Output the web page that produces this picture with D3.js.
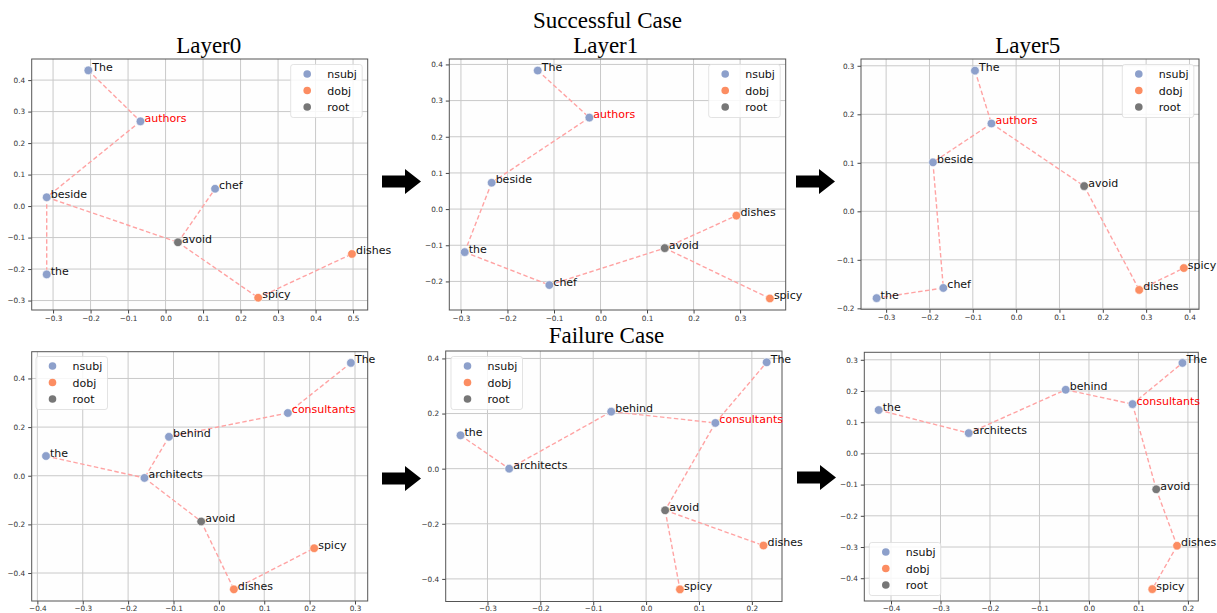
<!DOCTYPE html>
<html>
<head>
<meta charset="utf-8">
<script src="https://cdn.jsdelivr.net/npm/d3@7"></script>
<style>
  body { margin: 0; background: #fff; }
  svg { display: block; }
</style>
</head>
<body>
<div id="chart"></div>
<script>
// words + dependency labels for the two sentences
var successWords = ["The", "authors", "beside", "the", "chef", "avoid", "dishes", "spicy"];
var failureWords = ["The", "consultants", "behind", "the", "architects", "avoid", "dishes", "spicy"];
var wordDeps = ["nsubj", "nsubj", "nsubj", "nsubj", "nsubj", "root", "dobj", "dobj"];
var legendLabels = ["nsubj", "dobj", "root"];
var highlightWord = 1;

// successful case
var layer0X = [-0.206, -0.067, -0.317, -0.317, 0.132, 0.033, 0.497, 0.247];
var layer0Y = [0.431, 0.269, 0.028, -0.217, 0.055, -0.115, -0.152, -0.291];
var layer0Edges = [[0, 1], [1, 2], [2, 3], [2, 5], [5, 4], [5, 7], [7, 6]];

var layer1X = [-0.135, -0.024, -0.234, -0.292, -0.110, 0.138, 0.292, 0.364];
var layer1Y = [0.383, 0.253, 0.073, -0.119, -0.210, -0.108, -0.018, -0.247];
var layer1Edges = [[0, 1], [1, 2], [2, 3], [3, 4], [4, 5], [5, 6], [5, 7]];

var layer5X = [-0.095, -0.057, -0.192, -0.322, -0.168, 0.157, 0.284, 0.387];
var layer5Y = [0.290, 0.181, 0.101, -0.179, -0.158, 0.052, -0.162, -0.117];
var layer5Edges = [[0, 1], [1, 2], [2, 4], [4, 3], [1, 5], [5, 6], [6, 7]];

// failure case
var failLayer0X = [0.291, 0.152, -0.110, -0.381, -0.164, -0.039, 0.033, 0.210];
var failLayer0Y = [0.464, 0.258, 0.160, 0.081, -0.009, -0.188, -0.467, -0.298];
var failLayer0Edges = [[0, 1], [1, 2], [2, 4], [3, 4], [4, 5], [5, 6], [6, 7]];

var failLayer1X = [0.228, 0.131, -0.066, -0.351, -0.259, 0.036, 0.222, 0.064];
var failLayer1Y = [0.386, 0.166, 0.207, 0.121, 0.000, -0.151, -0.279, -0.438];
var failLayer1Edges = [[3, 4], [4, 2], [2, 1], [1, 0], [1, 5], [5, 6], [5, 7]];

var failLayer5X = [0.189, 0.088, -0.047, -0.425, -0.243, 0.136, 0.178, 0.128];
var failLayer5Y = [0.290, 0.158, 0.204, 0.139, 0.065, -0.115, -0.296, -0.435];
var failLayer5Edges = [[3, 4], [4, 2], [2, 1], [1, 0], [1, 5], [5, 6], [6, 7]];

// tick labels per panel
var ticksA = [-0.3, -0.2, -0.1, 0.0, 0.1, 0.2, 0.3, 0.4, 0.5];
var ticksB = [-0.3, -0.2, -0.1, 0.0, 0.1, 0.2, 0.3, 0.4];
var ticksC = [-0.3, -0.2, -0.1, 0.0, 0.1, 0.2, 0.3];
var ticksD = [-0.2, -0.1, 0.0, 0.1, 0.2, 0.3, 0.4];
var ticksE = [-0.2, -0.1, 0.0, 0.1, 0.2, 0.3];
var ticksF = [-0.4, -0.3, -0.2, -0.1, 0.0, 0.1, 0.2, 0.3];
var ticksG = [-0.4, -0.2, 0.0, 0.2, 0.4];
var ticksH = [-0.3, -0.2, -0.1, 0.0, 0.1, 0.2];
var ticksI = [-0.4, -0.3, -0.2, -0.1, 0.0, 0.1, 0.2];

var W = 1217, H = 613;
var color = d3.scaleOrdinal().domain(legendLabels).range(["#8da0cb", "#fc8d62", "#777777"]);
var fmt = function(v){ return d3.format(".1f")(v).replace("-", "\u2212"); };

var svg = d3.select("#chart").append("svg")
    .attr("width", W)
    .attr("height", H);

// frame boxes + axis ranges for each panel
var panels = [
  {words: successWords, xs: layer0X, ys: layer0Y, edges: layer0Edges,
   box: [31.7, 59, 367.7, 310], xd: [-0.357, 0.539], yd: [-0.330, 0.467],
   xt: ticksA, yt: ticksB, legend: [290.7, 64.5], pad: 2.5},
  {words: successWords, xs: layer1X, ys: layer1Y, edges: layer1Edges,
   box: [449.3, 59, 785.7, 310], xd: [-0.325, 0.398], yd: [-0.279, 0.415],
   xt: ticksC, yt: ticksD, legend: [708.7, 64.5], pad: 2.5},
  {words: successWords, xs: layer5X, ys: layer5Y, edges: layer5Edges,
   box: [861, 59, 1199, 309.3], xd: [-0.358, 0.422], yd: [-0.202, 0.314],
   xt: ticksB, yt: ticksE, legend: [1122.3, 64.5], pad: 2.5},
  {words: failureWords, xs: failLayer0X, ys: failLayer0Y, edges: failLayer0Edges,
   box: [31.7, 351.7, 367.7, 601], xd: [-0.4125, 0.328], yd: [-0.515, 0.510],
   xt: ticksF, yt: ticksG, legend: [36, 356.5], pad: 1.2},
  {words: failureWords, xs: failLayer1X, ys: failLayer1Y, edges: failLayer1Edges,
   box: [445.7, 351, 782, 601.5], xd: [-0.379, 0.257], yd: [-0.482, 0.427],
   xt: ticksH, yt: ticksG, legend: [451, 356.5], pad: 1.2},
  {words: failureWords, xs: failLayer5X, ys: failLayer5Y, edges: failLayer5Edges,
   box: [864.3, 352.3, 1198.3, 601], xd: [-0.454, 0.221], yd: [-0.473, 0.324],
   xt: ticksI, yt: ticksF, legend: [869.3, 542.5], pad: 1.2}
];

panels.forEach(function(p){
  var x = d3.scaleLinear().domain(p.xd).range([p.box[0], p.box[2]]);
  var y = d3.scaleLinear().domain(p.yd).range([p.box[3], p.box[1]]);
  var g = svg.append("g");

  g.append("rect")
    .attr("x", p.box[0]).attr("y", p.box[1])
    .attr("width", p.box[2] - p.box[0]).attr("height", p.box[3] - p.box[1])
    .attr("fill", "#fefefe");

  // grid
  g.selectAll(".gx").data(p.xt).enter().append("line")
    .attr("x1", d => x(d)).attr("x2", d => x(d))
    .attr("y1", p.box[1]).attr("y2", p.box[3])
    .attr("stroke", "#c9c9c9").attr("stroke-width", 1);
  g.selectAll(".gy").data(p.yt).enter().append("line")
    .attr("y1", d => y(d)).attr("y2", d => y(d))
    .attr("x1", p.box[0]).attr("x2", p.box[2])
    .attr("stroke", "#c9c9c9").attr("stroke-width", 1);

  // axes
  var xa = g.append("g")
    .attr("transform", "translate(0," + p.box[3] + ")")
    .call(d3.axisBottom(x).tickValues(p.xt).tickFormat(fmt).tickSize(3.5).tickPadding(p.pad));
  var ya = g.append("g")
    .attr("transform", "translate(" + p.box[0] + ",0)")
    .call(d3.axisLeft(y).tickValues(p.yt).tickFormat(fmt).tickSize(3.5).tickPadding(3));
  [xa, ya].forEach(function(a){
    a.select(".domain").remove();
    a.selectAll("line").attr("stroke", "#444");
    a.selectAll("text").attr("fill", "#333")
      .style("font-family", "DejaVu Sans").style("font-size", "7.3px");
  });

  g.append("rect")
    .attr("x", p.box[0]).attr("y", p.box[1])
    .attr("width", p.box[2] - p.box[0]).attr("height", p.box[3] - p.box[1])
    .attr("fill", "none").attr("stroke", "#555").attr("stroke-width", 1);

  // dependency edges
  g.selectAll(".edge").data(p.edges).enter().append("line")
    .attr("x1", d => x(p.xs[d[0]])).attr("y1", d => y(p.ys[d[0]]))
    .attr("x2", d => x(p.xs[d[1]])).attr("y2", d => y(p.ys[d[1]]))
    .attr("stroke", "#ffa3a3").attr("stroke-width", 1.4)
    .attr("stroke-dasharray", "4.5,2.5");

  var idx = d3.range(p.words.length);
  g.selectAll(".dot").data(idx).enter().append("circle")
    .attr("cx", i => x(p.xs[i])).attr("cy", i => y(p.ys[i]))
    .attr("r", 4.3)
    .attr("fill", i => color(wordDeps[i]))
    .attr("stroke", "#fff").attr("stroke-width", 0.6);

  g.selectAll(".word").data(idx).enter().append("text")
    .attr("x", i => x(p.xs[i]) + 4)
    .attr("y", i => y(p.ys[i]) + 0.5)
    .text(i => p.words[i])
    .attr("fill", i => i == highlightWord ? "#ff0000" : "#111")
    .style("font-family", "DejaVu Sans").style("font-size", "11px");

  // legend
  var lg = g.append("g").attr("transform", "translate(" + p.legend[0] + "," + p.legend[1] + ")");
  lg.append("rect")
    .attr("width", 71.5).attr("height", 53).attr("rx", 2.5)
    .attr("fill", "#fff").attr("fill-opacity", 0.85)
    .attr("stroke", "#dcdcdc").attr("stroke-width", 0.8);
  lg.selectAll("circle").data(legendLabels).enter().append("circle")
    .attr("cx", 16.5).attr("cy", (d, i) => 9.5 + i * 16.5)
    .attr("r", 3.8).attr("fill", d => color(d));
  lg.selectAll("text").data(legendLabels).enter().append("text")
    .attr("x", 36.5).attr("y", (d, i) => 13.5 + i * 16.5)
    .text(d => d)
    .attr("fill", "#111")
    .style("font-family", "DejaVu Sans").style("font-size", "11px");
});

// titles
var titles = [
  {t: "Successful Case", x: 607.5, y: 28},
  {t: "Layer0", x: 208.7, y: 52.5},
  {t: "Layer1", x: 605.7, y: 52.5},
  {t: "Layer5", x: 1027.7, y: 52.5},
  {t: "Failure Case", x: 606.5, y: 343.3}
];
svg.selectAll(".title").data(titles).enter().append("text")
  .attr("x", d => d.x).attr("y", d => d.y)
  .attr("text-anchor", "middle")
  .text(d => d.t)
  .attr("fill", "#000")
  .style("font-family", "Liberation Serif").style("font-size", "23px");

// big black arrows between panels
var arrows = [[382, 181.5], [796, 181.5], [382, 478.5], [797, 477.5]];
svg.selectAll(".arrow").data(arrows).enter().append("path")
  .attr("d", function(a){
    var x0 = a[0], c = a[1];
    return "M" + x0 + "," + (c - 6) + "L" + (x0 + 23) + "," + (c - 6) +
      "L" + (x0 + 23) + "," + (c - 12.5) + "L" + (x0 + 39) + "," + c +
      "L" + (x0 + 23) + "," + (c + 12.5) + "L" + (x0 + 23) + "," + (c + 6) +
      "L" + x0 + "," + (c + 6) + "Z";
  })
  .attr("fill", "#000");
</script>
</body>
</html>
